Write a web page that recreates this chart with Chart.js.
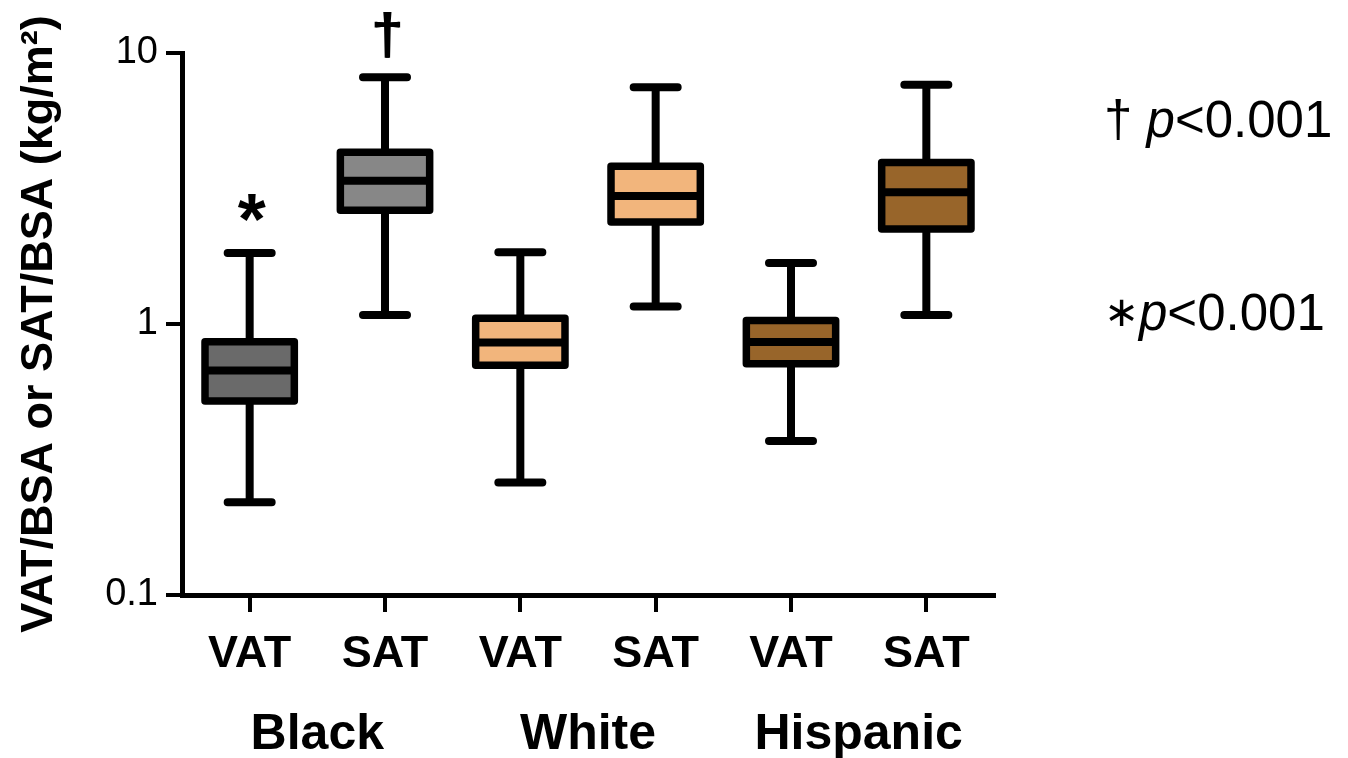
<!DOCTYPE html>
<html>
<head>
<meta charset="utf-8">
<script src="https://cdn.jsdelivr.net/npm/chart.js@4.4.1/dist/chart.umd.min.js"></script>
<style>
  html, body { margin: 0; padding: 0; background: #fff; }
  #wrap { width: 1348px; height: 758px; position: relative; }
</style>
</head>
<body>
<div id="wrap"><canvas id="boxChart"></canvas></div>
<script>
// values (kg/m2)
const categories = ['VAT', 'SAT', 'VAT', 'SAT', 'VAT', 'SAT'];
const groups = ['Black', 'White', 'Hispanic'];
const whiskerLow  = [0.22, 1.08, 0.26, 1.16, 0.37, 1.08];
const q1          = [0.52, 2.63, 0.705, 2.38, 0.714, 2.24];
const median      = [0.674, 3.38, 0.855, 2.97, 0.858, 3.06];
const q3          = [0.86, 4.30, 1.05, 3.82, 1.03, 3.94];
const whiskerHigh = [1.83, 8.13, 1.84, 7.47, 1.68, 7.64];
const marks = ['*', '†', '', '', '', ''];
const yTicks = [0.1, 1, 10];
const fillColors = ['#6a6a6a', '#878787', '#f2b57c', '#f2b57c', '#98652a', '#98652a'];

const FONT = '"Liberation Sans", Arial, Helvetica, sans-serif';

const boxPlot = {
  id: 'boxPlot',
  beforeDatasetsDraw(chart) {
    const {ctx, scales: {x, y}} = chart;
    ctx.save();
    ctx.strokeStyle = '#000';
    ctx.lineWidth = 8;
    ctx.lineCap = 'round';
    categories.forEach((c, i) => {
      const px = x.getPixelForValue(i);
      const lo = y.getPixelForValue(whiskerLow[i]);
      const hi = y.getPixelForValue(whiskerHigh[i]);
      ctx.beginPath();
      ctx.moveTo(px, lo); ctx.lineTo(px, hi);
      ctx.moveTo(px - 22, lo); ctx.lineTo(px + 22, lo);
      ctx.moveTo(px - 22, hi); ctx.lineTo(px + 22, hi);
      ctx.stroke();
    });
    ctx.restore();
  },
  afterDatasetsDraw(chart) {
    const {ctx, scales: {y}} = chart;
    const meta = chart.getDatasetMeta(0);
    ctx.save();
    ctx.strokeStyle = '#000';
    meta.data.forEach((el, i) => {
      const {x: bx, y: by, base, width} = el.getProps(['x', 'y', 'base', 'width'], true);
      ctx.lineWidth = 7.5;
      ctx.lineJoin = 'round';
      ctx.strokeRect(bx - width / 2, Math.min(by, base), width, Math.abs(base - by));
      const my = y.getPixelForValue(median[i]);
      ctx.lineWidth = 8;
      ctx.beginPath();
      ctx.moveTo(bx - width / 2, my);
      ctx.lineTo(bx + width / 2, my);
      ctx.stroke();

      // significance marks above the upper whisker
      if (marks[i]) {
        const hi = y.getPixelForValue(whiskerHigh[i]);
        const star = marks[i] === '*';
        ctx.font = 'bold ' + (star ? 72 : 58) + 'px ' + FONT;
        ctx.fillStyle = '#000';
        ctx.textAlign = 'center';
        ctx.textBaseline = 'alphabetic';
        const m = ctx.measureText(marks[i]);
        const gap = star ? 32 : 19;
        ctx.fillText(marks[i], bx + (star ? 2 : 2), hi - gap - m.actualBoundingBoxDescent);
        if (!star) ctx.fillText(marks[i], bx + 3, hi - gap - m.actualBoundingBoxDescent);
      }
    });

    // p-value notes on the right
    const notes = [['† ', 137, 51], ['∗', 330, 42]];
    notes.forEach(([sym, base, symSize]) => {
      let cx = 1104;
      ctx.textAlign = 'left';
      ctx.textBaseline = 'alphabetic';
      ctx.fillStyle = '#000';
      ctx.font = symSize + 'px ' + FONT;
      ctx.fillText(sym, cx, base - (sym === '∗' ? 4 : 0));
      cx += ctx.measureText(sym).width;
      ctx.font = 'italic 51px ' + FONT;
      ctx.fillText('p', cx, base);
      cx += ctx.measureText('p').width;
      ctx.font = '51px ' + FONT;
      ctx.fillText('<0.001', cx, base);
    });
    ctx.restore();
  }
};

new Chart(document.getElementById('boxChart'), {
  type: 'bar',
  data: {
    labels: categories,
    datasets: [{
      data: categories.map((c, i) => [q1[i], q3[i]]),
      backgroundColor: fillColors,
      borderWidth: 0,
      barPercentage: 0.66,
      categoryPercentage: 1
    }]
  },
  options: {
    responsive: true,
    maintainAspectRatio: false,
    animation: false,
    layout: { padding: { left: 0, right: 354, top: 53, bottom: 0 } },
    plugins: { legend: { display: false }, tooltip: { enabled: false } },
    scales: {
      x: {
        type: 'category',
        offset: true,
        grid: { display: true, drawOnChartArea: false, offset: false, color: '#000', lineWidth: 4, tickLength: 17 },
        border: { display: true, color: '#000', width: 5 },
        ticks: { color: '#000', padding: 16, font: { family: FONT, size: 45, weight: 'bold' } },
        afterFit(s) { s.height = 100; }
      },
      x2: {
        type: 'category',
        position: 'bottom',
        labels: groups,
        offset: true,
        grid: { display: false },
        border: { display: false },
        ticks: { color: '#000', padding: 2, font: { family: FONT, size: 50, weight: 'bold' } },
        afterFit(s) { s.height = 63; }
      },
      y: {
        type: 'logarithmic',
        min: 0.1,
        max: 10,
        afterBuildTicks(s) { s.ticks = yTicks.map(v => ({ value: v })); },
        grid: { display: true, drawOnChartArea: false, color: '#000', lineWidth: 4, tickLength: 16 },
        border: { display: true, color: '#000', width: 5 },
        ticks: { color: '#000', padding: 8, font: { family: FONT, size: 38 }, callback: v => String(v) },
        title: {
          display: true,
          text: 'VAT/BSA or SAT/BSA (kg/m²)',
          color: '#000',
          padding: { top: 13, bottom: 0 },
          font: { family: FONT, size: 45, weight: 'bold' }
        },
        afterFit(s) { s.width = 182; }
      }
    }
  },
  plugins: [boxPlot]
});
</script>
</body>
</html>
